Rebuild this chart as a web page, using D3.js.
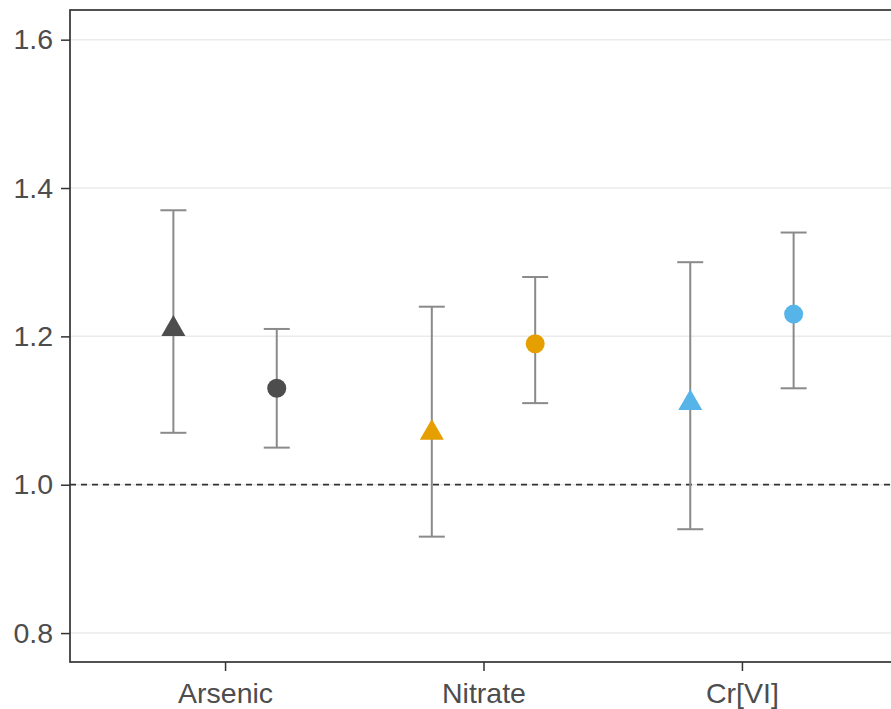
<!DOCTYPE html>
<html lang="en">
<head>
    <meta charset="UTF-8">
    <title>Estimates by contaminant</title>
    <script src="https://d3js.org/d3.v7.min.js"></script>
    <style>
        html, body {
            margin: 0;
            padding: 0;
            background: #ffffff;
        }
        svg {
            display: block;
            font-family: Arial, "Liberation Sans", sans-serif;
        }
    </style>
</head>
<body>

<svg id="chart" width="891" height="709"></svg>

<script>
    // Data
    const categories = ['Arsenic', 'Nitrate', 'Cr[VI]'];
    const categoryColors = ['#4D4D4D', '#E69F00', '#56B4E9'];

    // triangle series
    const triEstimate = [1.21, 1.07, 1.11];
    const triLower = [1.07, 0.93, 0.94];
    const triUpper = [1.37, 1.24, 1.30];

    // circle series
    const circEstimate = [1.13, 1.19, 1.23];
    const circLower = [1.05, 1.11, 1.13];
    const circUpper = [1.21, 1.28, 1.34];

    const yTicks = [0.8, 1.0, 1.2, 1.4, 1.6];
    const referenceValue = 1.0;

    const svg = d3.select('#chart');
    const panel = { left: 70, top: 10, right: 897, bottom: 662 };

    const x = d3.scalePoint()
        .domain(categories)
        .range([panel.left, panel.right])
        .padding(0.6);

    const y = d3.scaleLinear()
        .domain([0.761, 1.64])
        .range([panel.bottom, panel.top]);

    const dodge = x.step() * 0.2;
    const capHalf = 13;

    const rows = [];
    categories.forEach((c, i) => {
        rows.push({ cat: c, i: i, shape: 'triangle', off: -dodge, est: triEstimate[i], lo: triLower[i], hi: triUpper[i] });
        rows.push({ cat: c, i: i, shape: 'circle', off: dodge, est: circEstimate[i], lo: circLower[i], hi: circUpper[i] });
    });

    // grid lines
    svg.append('g')
        .selectAll('line')
        .data(yTicks)
        .enter().append('line')
        .attr('x1', panel.left)
        .attr('x2', panel.right)
        .attr('y1', d => y(d))
        .attr('y2', d => y(d))
        .attr('stroke', '#EBEBEB')
        .attr('stroke-width', 1.5);

    // reference line
    svg.append('line')
        .attr('x1', panel.left)
        .attr('x2', panel.right)
        .attr('y1', y(referenceValue))
        .attr('y2', y(referenceValue))
        .attr('stroke', '#333333')
        .attr('stroke-width', 1.7)
        .attr('stroke-dasharray', '6,5');

    // error bars
    const bars = svg.append('g')
        .attr('stroke', '#8A8A8A')
        .attr('stroke-width', 2)
        .attr('fill', 'none');

    bars.selectAll('.stem')
        .data(rows)
        .enter().append('line')
        .attr('class', 'stem')
        .attr('x1', d => x(d.cat) + d.off)
        .attr('x2', d => x(d.cat) + d.off)
        .attr('y1', d => y(d.lo))
        .attr('y2', d => y(d.hi));

    ['lo', 'hi'].forEach(k => {
        bars.selectAll('.cap-' + k)
            .data(rows)
            .enter().append('line')
            .attr('class', 'cap-' + k)
            .attr('x1', d => x(d.cat) + d.off - capHalf)
            .attr('x2', d => x(d.cat) + d.off + capHalf)
            .attr('y1', d => y(d[k]))
            .attr('y2', d => y(d[k]));
    });

    // points
    const tri = d3.symbol().type(d3.symbolTriangle).size(250);

    svg.append('g')
        .selectAll('path')
        .data(rows.filter(d => d.shape === 'triangle'))
        .enter().append('path')
        .attr('d', tri)
        .attr('transform', d => `translate(${x(d.cat) + d.off},${y(d.est)})`)
        .attr('fill', d => categoryColors[d.i]);

    svg.append('g')
        .selectAll('circle')
        .data(rows.filter(d => d.shape === 'circle'))
        .enter().append('circle')
        .attr('cx', d => x(d.cat) + d.off)
        .attr('cy', d => y(d.est))
        .attr('r', 9.5)
        .attr('fill', d => categoryColors[d.i]);

    // axes
    const yAxis = svg.append('g')
        .attr('transform', `translate(${panel.left},0)`)
        .call(d3.axisLeft(y).tickValues(yTicks).tickFormat(d3.format('.1f')).tickSize(9).tickPadding(8));

    const xAxis = svg.append('g')
        .attr('transform', `translate(0,${panel.bottom})`)
        .call(d3.axisBottom(x).tickSize(9).tickPadding(12));

    [xAxis, yAxis].forEach(a => {
        a.select('.domain').remove();
        a.selectAll('.tick line').attr('stroke', '#333333').attr('stroke-width', 1.5);
        a.selectAll('.tick text')
            .attr('fill', '#4D4D4D')
            .style('font-size', '28.5px')
            .style('font-family', 'Arial, "Liberation Sans", sans-serif');
    });

    // panel border
    svg.append('rect')
        .attr('x', panel.left)
        .attr('y', panel.top)
        .attr('width', panel.right - panel.left)
        .attr('height', panel.bottom - panel.top)
        .attr('fill', 'none')
        .attr('stroke', '#333333')
        .attr('stroke-width', 1.7);
</script>

</body>
</html>
